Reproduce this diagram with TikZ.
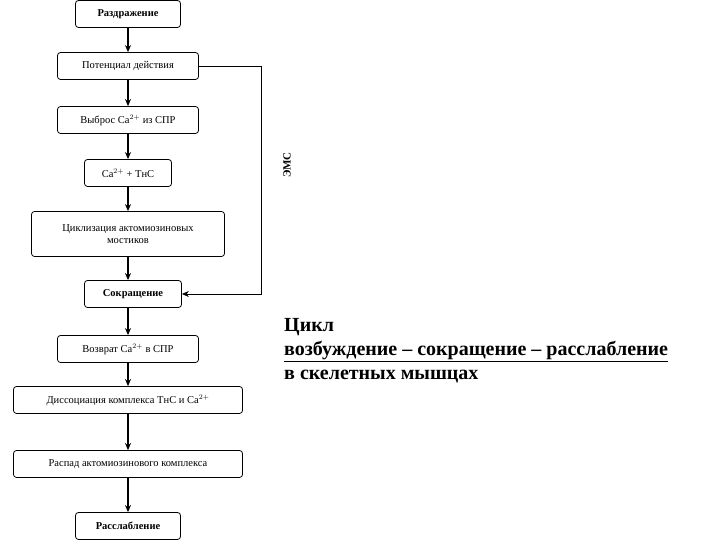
\documentclass[tikz,border=0pt]{standalone}
\usepackage{fontspec}
\setmainfont{Liberation Serif}
\usetikzlibrary{arrows.meta}
\tikzset{
  stage/.style={draw, line width=0.8pt, rounded corners=3pt, minimum height=27pt, align=center, font=\fontsize{10.5}{12}\selectfont, inner sep=1pt},
  flow/.style={-{Stealth[length=7pt,width=6pt]}, line width=1.2pt}
}
\begin{document}
\begin{tikzpicture}[x=1pt,y=1pt]
\useasboundingbox (0,0) rectangle (720,540);

\node[stage, minimum width=105pt, font=\fontsize{10.5}{12}\selectfont\bfseries] (razd) at (128,526) {Раздражение};
\node[stage, minimum width=141pt] (pot) at (128,474) {Потенциал действия};
\node[stage, minimum width=141pt] (vybr) at (128,420) {Выброс Ca$^{2+}$ из СПР};
\node[stage, minimum width=87pt] (tnc) at (128,367) {Ca$^{2+}$ + ТнС};
\node[stage, minimum width=193pt, minimum height=45pt] (cikl) at (128,306) {Циклизация актомиозиновых\\мостиков};
\node[stage, minimum width=97pt, font=\fontsize{10.5}{12}\selectfont\bfseries] (sokr) at (133,246) {Сокращение};
\node[stage, minimum width=141pt] (vozv) at (128,191) {Возврат Ca$^{2+}$ в СПР};
\node[stage, minimum width=229pt] (diss) at (128,140) {Диссоциация комплекса ТнС и Ca$^{2+}$};
\node[stage, minimum width=229pt] (rasp) at (128,76) {Распад актомиозинового комплекса};
\node[stage, minimum width=105pt, font=\fontsize{10.5}{12}\selectfont\bfseries] (rassl) at (128,14) {Расслабление};

\draw[flow] (razd) -- (pot);
\draw[flow] (pot) -- (vybr);
\draw[flow] (vybr) -- (tnc);
\draw[flow] (tnc) -- (cikl);
\draw[flow] (cikl.south) -- (cikl.south |- sokr.north);
\draw[flow] (sokr.south -| vozv.north) -- (vozv);
\draw[flow] (vozv) -- (diss);
\draw[flow] (diss) -- (rasp);
\draw[flow] (rasp) -- (rassl);

\coordinate (ems) at (261,0);
\draw[flow, line width=0.9pt] (pot.east) -- (pot.east -| ems) -- (sokr.east -| ems) -- (sokr.east);
\node[rotate=90, font=\fontsize{11}{12}\selectfont\bfseries] (emslab) at (287,375) {ЭМС};

\node[anchor=west, align=left, inner sep=0pt, font=\fontsize{20}{24}\selectfont\bfseries] (title) at (284,189)
  {Цикл\\\underline{возбуждение – сокращение – расслабление}\\в скелетных мышцах};
\end{tikzpicture}
\end{document}
